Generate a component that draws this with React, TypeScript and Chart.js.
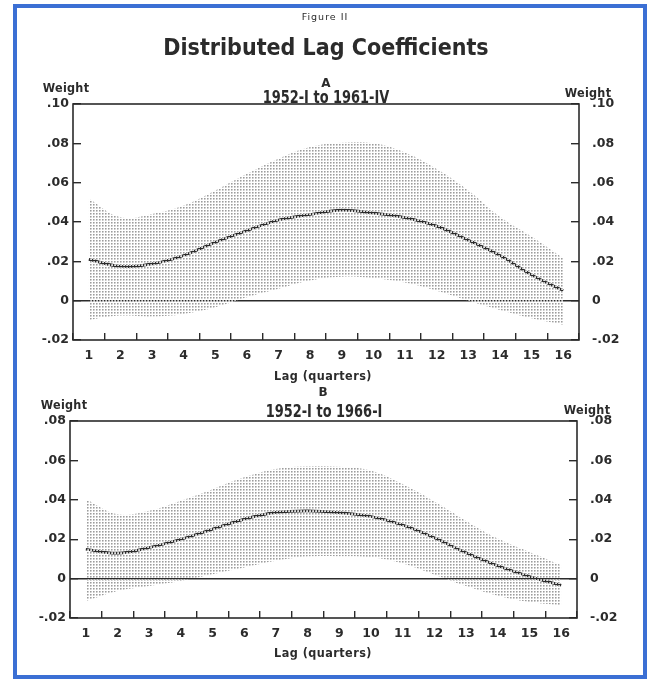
import React, { useEffect, useRef } from 'react';
import Chart from 'chart.js/auto';

// ---- data ----
const LAGS = ['1', '2', '3', '4', '5', '6', '7', '8', '9', '10', '11', '12', '13', '14', '15', '16'];

const A_EST = [0.021, 0.0175, 0.0187, 0.023, 0.0297, 0.0356, 0.041, 0.0438, 0.046, 0.0445, 0.0422, 0.0379, 0.0307, 0.023, 0.0131, 0.0051];
const A_UPPER = [0.0518, 0.0424, 0.0441, 0.0484, 0.056, 0.0645, 0.0722, 0.0781, 0.0803, 0.08, 0.0753, 0.0669, 0.056, 0.0427, 0.0326, 0.0216];
const A_LOWER = [-0.0098, -0.0076, -0.0081, -0.0068, -0.0034, 0.0017, 0.006, 0.0102, 0.0122, 0.0114, 0.0092, 0.005, 0.0, -0.0047, -0.0089, -0.0122];

const B_EST = [0.0149, 0.0129, 0.0158, 0.02, 0.0251, 0.0302, 0.0336, 0.0344, 0.0335, 0.0315, 0.0272, 0.0207, 0.0131, 0.0065, 0.0011, -0.0034];
const B_UPPER = [0.0403, 0.0327, 0.0344, 0.0395, 0.0454, 0.0514, 0.0556, 0.057, 0.0568, 0.0548, 0.048, 0.0391, 0.0293, 0.0203, 0.0135, 0.0068];
const B_LOWER = [-0.0114, -0.0063, -0.0037, -0.0012, 0.0022, 0.0056, 0.009, 0.0112, 0.0114, 0.0108, 0.0077, 0.002, -0.0038, -0.0087, -0.0119, -0.0135];

const Y_MIN = -0.02;
const A_Y_MAX = 0.1;
const B_Y_MAX = 0.08;
const Y_STEP = 0.02;

const FIG_LABEL = 'Figure II';
const FIG_TITLE = 'Distributed Lag Coefficients';
const A_LETTER = 'A';
const A_PERIOD = '1952-I to 1961-IV';
const B_LETTER = 'B';
const B_PERIOD = '1952-I to 1966-I';
const Y_TITLE = 'Weight';
const X_TITLE = 'Lag (quarters)';

// ---- styling ----
const W = 655;
const H = 679;
const INK = '#2b2b2b';
const FONT = '"DejaVu Sans", "Liberation Sans", sans-serif';

function fmt(v: number) {
  if (Math.abs(v) < 1e-9) return '0';
  const s = Math.abs(v).toFixed(2).slice(1);
  return v < 0 ? '-' + s : s;
}

function makePattern(): CanvasPattern | string {
  const c = document.createElement('canvas');
  c.width = 3;
  c.height = 3;
  const g = c.getContext('2d');
  if (!g) return '#e0e0e0';
  g.fillStyle = '#9c9c9c';
  g.fillRect(0, 0, 1, 1);
  g.fillStyle = '#c6c6c6';
  g.fillRect(1, 0, 1, 1);
  g.fillRect(0, 1, 1, 1);
  g.fillStyle = '#e2e2e2';
  g.fillRect(1, 1, 1, 1);
  const p = g.createPattern(c, 'repeat');
  return p || '#e0e0e0';
}

const framePlugin = {
  id: 'frame',
  afterDatasetsDraw(chart: any) {
    const { ctx, chartArea: a } = chart;
    ctx.save();
    ctx.strokeStyle = INK;
    ctx.lineWidth = 1.6;
    ctx.strokeRect(a.left, a.top, a.right - a.left, a.bottom - a.top);
    ctx.restore();
  },
};

type Panel = {
  est: number[];
  upper: number[];
  lower: number[];
  yMax: number;
  left: number;
  right: number;
  top: number;
  bottom: number;
};

function buildChart(canvas: HTMLCanvasElement, p: Panel) {
  const xH = 40;
  const tickFont = { family: FONT, size: 12.5, weight: 'bold' as const };
  return new Chart(canvas, {
    type: 'line',
    data: {
      labels: LAGS,
      datasets: [
        { data: p.upper, fill: '+1', backgroundColor: makePattern() as any, borderWidth: 0, pointRadius: 0, tension: 0.4 },
        { data: p.lower, fill: false, borderWidth: 0, pointRadius: 0, tension: 0.4 },
        { data: p.est, fill: false, borderColor: INK, borderWidth: 2.7, pointRadius: 0, tension: 0.4 },
      ],
    },
    options: {
      responsive: false,
      animation: false,
      events: [],
      layout: { padding: { left: 0, right: 0, top: p.top, bottom: H - p.bottom - xH } },
      plugins: { legend: { display: false }, tooltip: { enabled: false } },
      scales: {
        x: {
          type: 'category',
          offset: true,
          grid: { offset: true, drawOnChartArea: false, tickLength: -7, color: INK, lineWidth: 1.4 },
          border: { display: false },
          ticks: { font: tickFont, color: INK, padding: 15, autoSkip: false, maxRotation: 0 },
          afterFit: (s: any) => { s.height = xH; },
        },
        y: {
          position: 'left',
          min: Y_MIN,
          max: p.yMax,
          ticks: { stepSize: Y_STEP, callback: (v: any) => fmt(Number(v)), padding: 12, font: tickFont, color: INK },
          grid: {
            color: (ctx: any) => (ctx.tick && Math.abs(ctx.tick.value) < 1e-9 ? INK : 'rgba(0,0,0,0)'),
            tickColor: INK,
            tickLength: -8,
            lineWidth: 1.4,
          },
          border: { display: false },
          afterFit: (s: any) => { s.width = p.left; },
        },
        y2: {
          position: 'right',
          min: Y_MIN,
          max: p.yMax,
          ticks: { stepSize: Y_STEP, callback: (v: any) => fmt(Number(v)), padding: 21, font: tickFont, color: INK },
          grid: { drawOnChartArea: false, color: INK, tickLength: -8, lineWidth: 1.4 },
          border: { display: false },
          afterFit: (s: any) => { s.width = W - p.right; },
        },
      },
    } as any,
    plugins: [framePlugin],
  });
}

function Txt(props: { x: number; y: number; size: number; text: string; bold?: boolean; sx?: number; spacing?: number }) {
  return (
    <div
      style={{
        position: 'absolute',
        left: props.x,
        top: props.y,
        transform: `translate(-50%, -50%) scaleX(${props.sx || 1})`,
        whiteSpace: 'nowrap',
        fontFamily: FONT,
        fontSize: props.size,
        fontWeight: props.bold === false ? 'normal' : 'bold',
        lineHeight: 1,
        color: INK,
        letterSpacing: props.spacing || 0,
      }}
    >
      {props.text}
    </div>
  );
}

export default function App() {
  const refA = useRef<HTMLCanvasElement>(null);
  const refB = useRef<HTMLCanvasElement>(null);

  useEffect(() => {
    const a = buildChart(refA.current!, {
      est: A_EST, upper: A_UPPER, lower: A_LOWER, yMax: A_Y_MAX,
      left: 73, right: 579, top: 104, bottom: 340,
    });
    const b = buildChart(refB.current!, {
      est: B_EST, upper: B_UPPER, lower: B_LOWER, yMax: B_Y_MAX,
      left: 70, right: 577, top: 421, bottom: 618,
    });
    return () => {
      a.destroy();
      b.destroy();
    };
  }, []);

  const canvasStyle: React.CSSProperties = { position: 'absolute', left: 0, top: 0, width: W, height: H };

  return (
    <div style={{ position: 'absolute', left: 0, top: 0, width: W, height: H, background: '#fff', overflow: 'hidden' }}>
      <div
        style={{
          position: 'absolute',
          left: 13,
          top: 4,
          width: 647 - 13,
          height: 679 - 4,
          border: '4.5px solid #3b6fd4',
          boxSizing: 'border-box',
        }}
      />
      <canvas ref={refA} width={W} height={H} style={canvasStyle} />
      <canvas ref={refB} width={W} height={H} style={canvasStyle} />
      <Txt x={325} y={17} size={9.5} text={FIG_LABEL} bold={false} spacing={1} />
      <Txt x={326} y={47} size={23} text={FIG_TITLE} sx={0.9} />
      <Txt x={326} y={83} size={12} text={A_LETTER} />
      <Txt x={325.5} y={97} size={18} text={A_PERIOD} sx={0.72} />
      <Txt x={65.5} y={88} size={12.5} text={Y_TITLE} sx={0.9} spacing={0.3} />
      <Txt x={588} y={92.5} size={12.5} text={Y_TITLE} sx={0.9} spacing={0.3} />
      <Txt x={322.5} y={376} size={12.5} text={X_TITLE} sx={0.9} spacing={0.5} />
      <Txt x={323} y={392} size={12} text={B_LETTER} />
      <Txt x={324} y={410.5} size={18} text={B_PERIOD} sx={0.72} />
      <Txt x={63.5} y={405} size={12.5} text={Y_TITLE} sx={0.9} spacing={0.3} />
      <Txt x={586.5} y={410} size={12.5} text={Y_TITLE} sx={0.9} spacing={0.3} />
      <Txt x={322.5} y={653} size={12.5} text={X_TITLE} sx={0.9} spacing={0.5} />
    </div>
  );
}
